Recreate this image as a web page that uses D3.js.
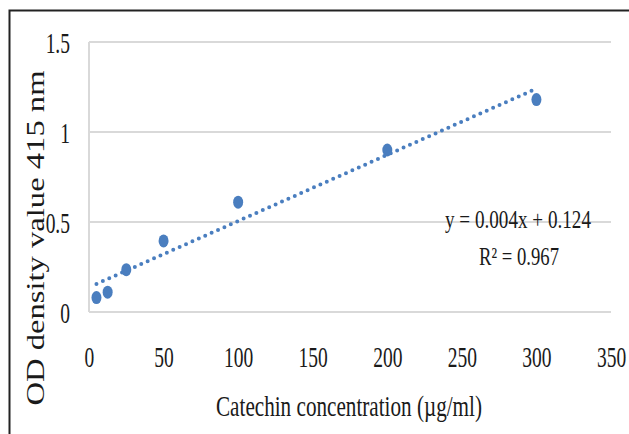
<!DOCTYPE html>
<html>
<head>
<meta charset="utf-8">
<script src="https://cdn.jsdelivr.net/npm/d3@7"></script>
<style>
  body { margin: 0; background: #fff; }
  text { font-family: "Liberation Serif", "DejaVu Serif", serif; fill: #1a1a1a; }
</style>
</head>
<body>
<div id="chart"></div>
<script>
// data
var concentration = [5, 12.5, 25, 50, 100, 200, 300];
var odValue = [0.08, 0.11, 0.235, 0.395, 0.61, 0.90, 1.18];
var xTicks = [0, 50, 100, 150, 200, 250, 300, 350];
var yTicks = [0, 0.5, 1, 1.5];
var eqLines = ["y = 0.004x + 0.124", "R² = 0.967"];

var svgWidth = 629;
var svgHeight = 434;
var squish = 0.65; // text in the picture is horizontally compressed

var svg = d3.select("#chart")
  .append("svg")
  .attr("width", svgWidth)
  .attr("height", svgHeight);

// outer frame
svg.append("rect")
  .attr("x", 9.5).attr("y", 10.5)
  .attr("width", 650).attr("height", 450)
  .attr("fill", "none")
  .attr("stroke", "#222")
  .attr("stroke-width", 2);

var x = d3.scaleLinear().domain([0, 350]).range([89, 611]);
var y = d3.scaleLinear().domain([0, 1.5]).range([312, 42]);

// gridlines
svg.append("g")
  .selectAll("line")
  .data(yTicks)
  .enter().append("line")
  .attr("x1", x(0)).attr("x2", x(350))
  .attr("y1", function(d){ return y(d); })
  .attr("y2", function(d){ return y(d); })
  .attr("stroke", "#d9d9d9")
  .attr("stroke-width", 2);

// left edge of plot area
svg.append("line")
  .attr("x1", x(0)).attr("x2", x(0))
  .attr("y1", y(1.5)).attr("y2", y(0))
  .attr("stroke", "#d9d9d9")
  .attr("stroke-width", 2);

// axes (labels only)
var bottomAxis = d3.axisBottom(x).tickValues(xTicks).tickSize(0).tickPadding(0);
var leftAxis = d3.axisLeft(y).tickValues(yTicks).tickSize(0).tickPadding(0)
  .tickFormat(d3.format("~g"));

var gx = svg.append("g")
  .attr("transform", "translate(0," + 367 + ")")
  .call(bottomAxis);
var gy = svg.append("g")
  .attr("transform", "translate(" + 70 + ",0)")
  .call(leftAxis);

gx.select(".domain").remove();
gy.select(".domain").remove();

gx.selectAll("text")
  .attr("y", 0).attr("dy", 0)
  .attr("font-size", 30)
  .attr("font-family", "Liberation Serif")
  .attr("fill", "#1a1a1a")
  .attr("transform", "scale(" + squish + ",1)");

gy.selectAll("text")
  .attr("x", 0).attr("dy", "0.34em")
  .attr("font-size", 30)
  .attr("font-family", "Liberation Serif")
  .attr("fill", "#1a1a1a")
  .attr("transform", "scale(" + squish + ",1)");

// axis titles
svg.append("text")
  .attr("x", 349).attr("y", 416)
  .attr("text-anchor", "middle")
  .attr("font-size", 30)
  .attr("textLength", 266)
  .attr("lengthAdjust", "spacingAndGlyphs")
  .text("Catechin concentration (µg/ml)");

svg.append("text")
  .attr("transform", "translate(44," + 238 + ") rotate(-90)")
  .attr("text-anchor", "middle")
  .attr("font-size", 25)
  .attr("textLength", 335)
  .attr("lengthAdjust", "spacingAndGlyphs")
  .text("OD density value 415 nm");

// linear trendline fitted to the points
var mx = d3.mean(concentration), my = d3.mean(odValue);
var sxy = d3.sum(concentration, function(c, i){ return (c - mx) * (odValue[i] - my); });
var sxx = d3.sum(concentration, function(c){ return (c - mx) * (c - mx); });
var slope = sxy / sxx, intercept = my - slope * mx;
var xEnds = d3.extent(concentration);

var blue = "#4a7ebf";

svg.append("line")
  .attr("x1", x(xEnds[0])).attr("y1", y(intercept + slope * xEnds[0]))
  .attr("x2", x(xEnds[1])).attr("y2", y(intercept + slope * xEnds[1]))
  .attr("stroke", blue)
  .attr("stroke-width", 4)
  .attr("stroke-linecap", "round")
  .attr("stroke-dasharray", "0,7");

// points
svg.append("g")
  .selectAll("ellipse")
  .data(concentration)
  .enter().append("ellipse")
  .attr("cx", function(d){ return x(d); })
  .attr("cy", function(d, i){ return y(odValue[i]); })
  .attr("rx", 5)
  .attr("ry", 6.5)
  .attr("fill", blue);

// equation
var eq = svg.append("g");
eq.append("text")
  .attr("x", 518).attr("y", 228)
  .attr("text-anchor", "middle")
  .attr("font-size", 25)
  .attr("textLength", 146)
  .attr("lengthAdjust", "spacingAndGlyphs")
  .text(eqLines[0]);
eq.append("text")
  .attr("x", 519).attr("y", 265)
  .attr("text-anchor", "middle")
  .attr("font-size", 25)
  .attr("textLength", 80)
  .attr("lengthAdjust", "spacingAndGlyphs")
  .text(eqLines[1]);
</script>
</body>
</html>
